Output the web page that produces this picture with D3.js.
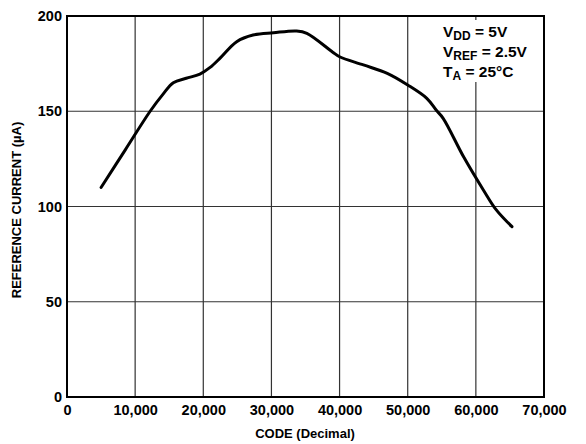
<!DOCTYPE html>
<html><head><meta charset="utf-8">
<script src="https://cdn.jsdelivr.net/npm/d3@7"></script>
<style>
body{margin:0;background:#fff;}
text{font-family:"Liberation Sans",Arial,Helvetica,sans-serif;font-weight:bold;fill:#000;}
</style></head>
<body>
<svg id="c" width="586" height="444"></svg>
<script>
const codes = [5000, 8600, 12200, 14100, 15600, 17500, 19500, 21000, 22500, 24900, 27300, 30300, 33700, 35200, 39000, 40000, 43500, 47000, 50000, 52800, 54200, 55200, 58200, 61100, 63000, 65300];
const current = [110, 130, 150, 159, 165, 167.3, 169.5, 173, 178, 186.5, 190, 191.2, 192.1, 190.9, 181, 178.6, 174.3, 169.9, 163.8, 156.8, 150.5, 146.3, 126.1, 108.7, 98.2, 89.4];
const xTicks = [0, 10000, 20000, 30000, 40000, 50000, 60000, 70000];
const yTicks = [0, 50, 100, 150, 200];

const svg = d3.select("#c");
const L = 67, R = 544, T = 16, B = 397;
const x = d3.scaleLinear().domain([0, 70000]).range([L, R]);
const y = d3.scaleLinear().domain([0, 200]).range([B, T]);

// grid
svg.append("g").selectAll("line").data(xTicks.slice(1, -1)).join("line")
  .attr("x1", d => x(d)).attr("x2", d => x(d)).attr("y1", T).attr("y2", B)
  .attr("stroke", "#333").attr("stroke-width", 1.2);
svg.append("g").selectAll("line").data(yTicks.slice(1, -1)).join("line")
  .attr("y1", d => y(d)).attr("y2", d => y(d)).attr("x1", L).attr("x2", R)
  .attr("stroke", "#333").attr("stroke-width", 1.2);

// annotation background
const ann = svg.append("g");
ann.append("rect").attr("x", 436).attr("y", 20).attr("width", 104).attr("height", 62).attr("fill", "#fff");

// frame
svg.append("rect").attr("x", L).attr("y", T).attr("width", R - L).attr("height", B - T)
  .attr("fill", "none").attr("stroke", "#000").attr("stroke-width", 2);

// axes labels
const xAxis = d3.axisBottom(x).tickValues(xTicks).tickSize(0).tickPadding(8).tickFormat(d3.format(","));
const gx = svg.append("g").attr("transform", `translate(0,${B})`).call(xAxis);
gx.select(".domain").remove();
gx.selectAll("text").attr("font-size", 14.5).attr("font-family", "Liberation Sans, Arial, sans-serif").attr("font-weight", "bold").attr("fill", "#000");

const yAxis = d3.axisLeft(y).tickValues(yTicks).tickSize(0).tickPadding(5);
const gy = svg.append("g").attr("transform", `translate(${L},0)`).call(yAxis);
gy.select(".domain").remove();
gy.selectAll("text").attr("font-size", 14.5).attr("font-family", "Liberation Sans, Arial, sans-serif").attr("font-weight", "bold").attr("fill", "#000");

svg.append("text").attr("x", 305).attr("y", 438).attr("text-anchor", "middle").attr("font-size", 13).text("CODE (Decimal)");
svg.append("text").attr("transform", "translate(21,210) rotate(-90)").attr("text-anchor", "middle").attr("font-size", 13).text("REFERENCE CURRENT (µA)");

// curve
const line = d3.line().x((d, i) => x(codes[i])).y(d => y(d)).curve(d3.curveCatmullRom.alpha(0.5));
svg.append("path").datum(current).attr("d", line).attr("fill", "none").attr("stroke", "#000")
  .attr("stroke-width", 3).attr("stroke-linejoin", "round").attr("stroke-linecap", "round");

// annotation
const lines = [["V", "DD", " = 5V"], ["V", "REF", " = 2.5V"], ["T", "A", " = 25°C"]];
lines.forEach((l, i) => {
  const t = ann.append("text").attr("x", 443).attr("y", 37 + i * 20).attr("font-size", 15.5);
  t.append("tspan").text(l[0]);
  t.append("tspan").attr("font-size", 12).attr("dy", 3).text(l[1]);
  t.append("tspan").attr("dy", -3).text(l[2]);
});
</script>
</body></html>
